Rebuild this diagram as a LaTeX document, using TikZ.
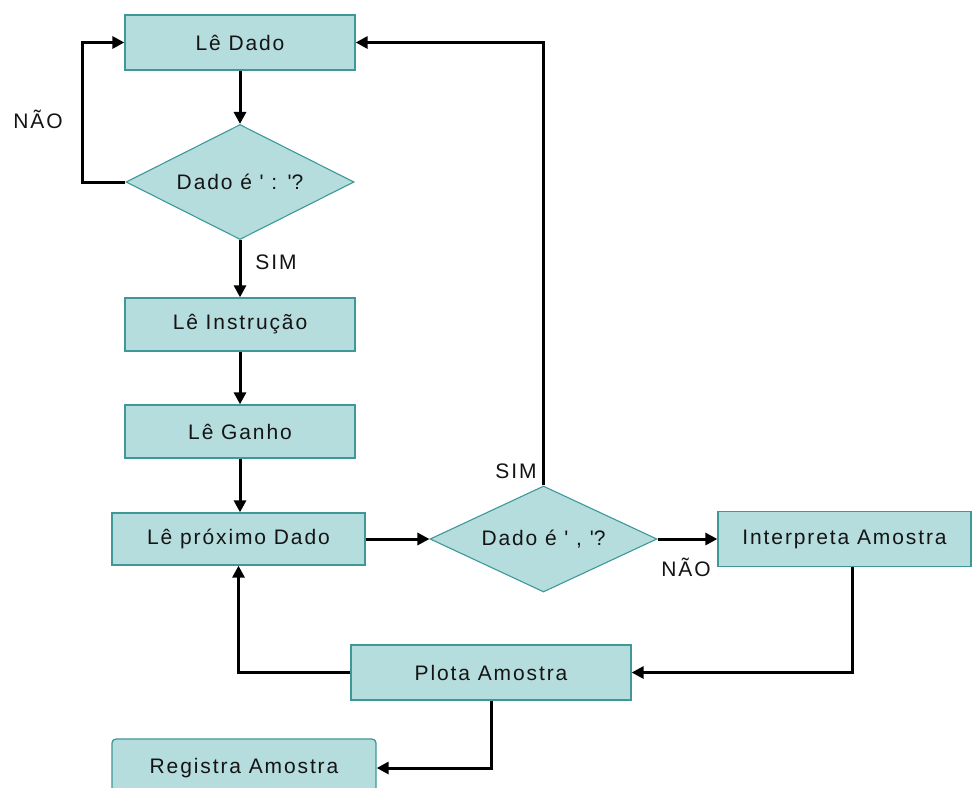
\documentclass[tikz,border=0pt]{standalone}
\usepackage{fontspec}
\setmainfont{Liberation Sans}[LetterSpace=9]
\usetikzlibrary{shapes.geometric,arrows.meta}
\definecolor{boxfill}{RGB}{182,221,222}
\definecolor{boxline}{RGB}{62,152,152}
\definecolor{txt}{RGB}{20,20,20}
\newcommand{\sq}{\textquotesingle}
\begin{document}
\begin{tikzpicture}[x=1pt,y=-1pt,
  every node/.style={font=\fontsize{21}{25}\selectfont, text=txt},
  procbox/.style={draw=boxline, line width=1.3pt, fill=boxfill, rectangle, inner sep=0pt},
  decision/.style={draw=boxline, line width=1.1pt, fill=boxfill, diamond, inner sep=0pt, aspect=2},
  conn/.style={line width=3pt, draw=black, -{Triangle[length=12pt,width=12pt]}},
  lbl/.style={inner sep=0pt}]
\useasboundingbox (0,0) rectangle (973,787);
\clip (0,0) rectangle (973,787);
\fill[white] (0,0) rectangle (973,787);

\node[procbox, minimum width=230pt, minimum height=55pt] (ledado) at (240,42.5) {Lê Dado};
\node[decision, minimum width=228pt, minimum height=115pt] (d1) at (240,182) {Dado é \sq\ : \sq?};
\node[procbox, minimum width=230pt, minimum height=53pt] (leinstr) at (240,324.5) {Lê Instrução};
\node[procbox, minimum width=230pt, minimum height=53pt] (leganho) at (240,431.5) {Lê Ganho};
\node[procbox, minimum width=253pt, minimum height=52pt] (leprox) at (238.5,539) {Lê próximo Dado};
\node[decision, minimum width=227pt, minimum height=106pt] (d2) at (543.5,539) {Dado é \sq\ , \sq?};
\node[procbox, minimum width=253pt, minimum height=55pt] (interp) at (844.5,539) {Interpreta Amostra};
\node[procbox, minimum width=280pt, minimum height=55pt] (plota) at (491,672.5) {Plota Amostra};
\node[procbox, rounded corners=4pt, minimum width=264pt, minimum height=58pt] (registra) at (244,768) {Registra Amostra};

\node[lbl] (nao1) at (38,119) {NÃO};
\node[lbl] (sim1) at (276,262) {SIM};
\node[lbl] (sim2) at (516,471) {SIM};
\node[lbl] (nao2) at (686,567) {NÃO};

\draw[conn] (ledado.south) -- (d1.north);
\draw[conn] (d1.west) -- ++(-43,0) |- (ledado.west);
\draw[conn] (d1.south) -- (leinstr.north);
\draw[conn] (leinstr.south) -- (leganho.north);
\draw[conn] (leganho.south) -- (leganho.south |- leprox.north);
\draw[conn] (leprox.east) -- (d2.west);
\draw[conn] (d2.east) -- (interp.west);
\draw[conn] (d2.north) |- (ledado.east);
\draw[conn] ([xshift=8pt]interp.south) |- (plota.east);
\draw[conn] (plota.west) -| (leprox.south);
\draw[conn] (plota.south) |- (registra.east);
\end{tikzpicture}
\end{document}
